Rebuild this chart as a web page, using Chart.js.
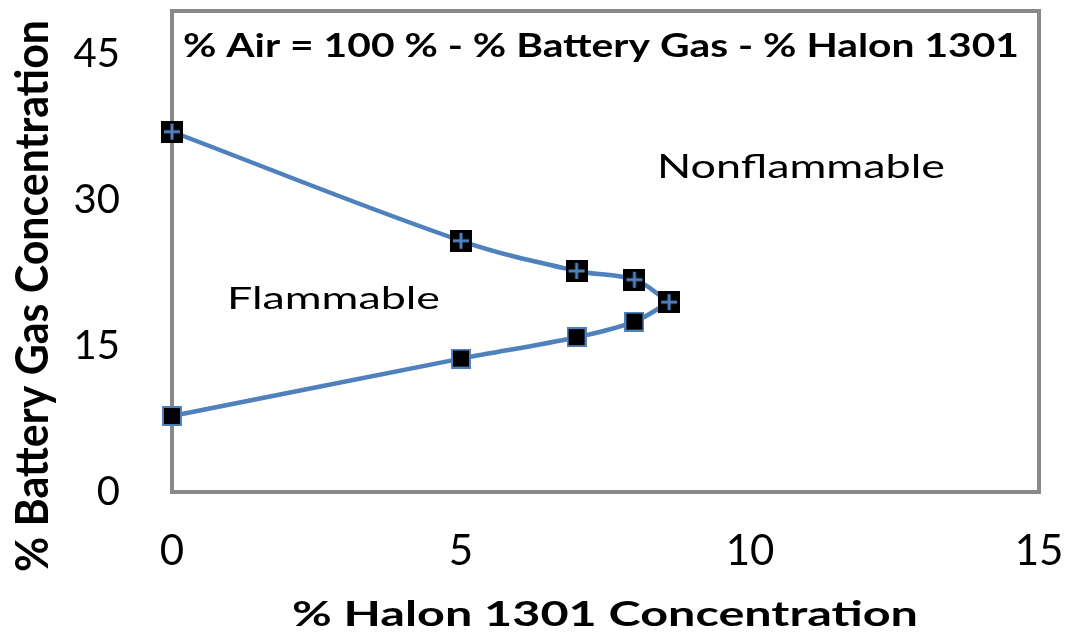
<!DOCTYPE html>
<html lang="en">
<head>
<meta charset="UTF-8">
<title>Battery Gas / Halon 1301 Flammability</title>
<script src="https://cdn.jsdelivr.net/npm/chart.js"></script>
<style>
  body { margin: 0; background: #fff; }
  #wrap { width: 1070px; height: 634px; }
</style>
</head>
<body>
<div id="wrap"><canvas id="chart" width="1070" height="634"></canvas></div>
<script>
// data
const halonUpper = [0, 5, 7, 8, 8.6];
const gasUpper = [37, 25.8, 22.7, 21.8, 19.5];
const halonLower = [0, 5, 7, 8, 8.6];
const gasLower = [7.8, 13.7, 15.9, 17.5, 19.5];
const xTicks = [0, 5, 10, 15];
const yTicks = [0, 15, 30, 45];

const blue = '#4F81BD';
const fontFam = 'Lato, "Open Sans", sans-serif';

// marker images
function crossSquare() {
  const c = document.createElement('canvas');
  c.width = 22; c.height = 22;
  const g = c.getContext('2d');
  g.fillStyle = '#000'; g.fillRect(0, 0, 22, 22);
  g.fillStyle = blue;
  g.fillRect(3, 9.5, 16, 3);
  g.fillRect(9.5, 3, 3, 16);
  return c;
}
function plainSquare() {
  const c = document.createElement('canvas');
  c.width = 20; c.height = 20;
  const g = c.getContext('2d');
  g.fillStyle = blue; g.fillRect(0, 0, 20, 20);
  g.fillStyle = '#000'; g.fillRect(2, 2, 16, 16);
  return c;
}

const toPts = (xs, ys) => xs.map((x, i) => ({ x: x, y: ys[i] }));

// the source picture is stretched sideways, so text is fitted to a width
function drawFit(ctx, text, font, x, y, width, sy, angle) {
  ctx.save();
  ctx.font = font;
  const w = ctx.measureText(text).width;
  ctx.translate(x, y);
  if (angle) ctx.rotate(angle);
  ctx.scale(width / w, sy || 1);
  ctx.fillText(text, 0, 0);
  ctx.restore();
}

const textPlugin = {
  id: 'texts',
  beforeDatasetsDraw(chart) {
    const a = chart.chartArea, ctx = chart.ctx;
    ctx.save();
    ctx.strokeStyle = '#898989';
    ctx.lineWidth = 4;
    ctx.strokeRect(a.left, a.top, a.right - a.left, a.bottom - a.top);
    ctx.restore();
  },
  afterDatasetsDraw(chart) {
    const ctx = chart.ctx;
    ctx.save();
    ctx.fillStyle = '#000';
    ctx.textBaseline = 'alphabetic';
    ctx.textAlign = 'left';
    drawFit(ctx, '% Air = 100 % - % Battery Gas - % Halon 1301', 'bold 33px ' + fontFam, 183, 57, 836);
    drawFit(ctx, 'Nonflammable', '32px ' + fontFam, 657, 178, 288);
    drawFit(ctx, 'Flammable', '31px ' + fontFam, 227, 309, 213);
    drawFit(ctx, '% Halon 1301 Concentration', 'bold 34px ' + fontFam, 292, 626, 626);
    drawFit(ctx, '% Battery Gas Concentration', 'bold 32px ' + fontFam, 48, 572, 552, 1.45, -Math.PI / 2);
    ctx.restore();
  }
};

new Chart(document.getElementById('chart'), {
  type: 'scatter',
  data: {
    datasets: [
      {
        data: toPts(halonUpper, gasUpper),
        showLine: true,
        borderColor: blue,
        borderWidth: 4.5,
        tension: 0.35,
        pointStyle: crossSquare(),
        clip: false
      },
      {
        data: toPts(halonLower, gasLower),
        showLine: true,
        borderColor: blue,
        borderWidth: 4.5,
        tension: 0.35,
        pointStyle: plainSquare(),
        clip: false
      }
    ]
  },
  options: {
    responsive: false,
    animation: false,
    layout: { padding: { top: 11, right: 31, left: 0, bottom: 0 } },
    plugins: { legend: { display: false }, tooltip: { enabled: false } },
    scales: {
      x: {
        type: 'linear',
        min: 0, max: 15,
        afterBuildTicks: s => { s.ticks = xTicks.map(v => ({ value: v })); },
        grid: { display: false, drawTicks: false },
        border: { display: false },
        ticks: { color: '#000', padding: 34, maxRotation: 0, font: { family: fontFam, size: 42 } },
        afterFit: s => { s.height = 142; s.paddingLeft = 0; s.paddingRight = 0; }
      },
      y: {
        type: 'linear',
        min: 0, max: 49.4,
        afterBuildTicks: s => { s.ticks = yTicks.map(v => ({ value: v })); },
        grid: { display: false, drawTicks: false },
        border: { display: false },
        ticks: { color: '#000', padding: 52, font: { family: fontFam, size: 40 } },
        afterFit: s => { s.width = 172; s.paddingTop = 0; s.paddingBottom = 0; }
      }
    }
  },
  plugins: [textPlugin]
});
</script>
</body>
</html>
